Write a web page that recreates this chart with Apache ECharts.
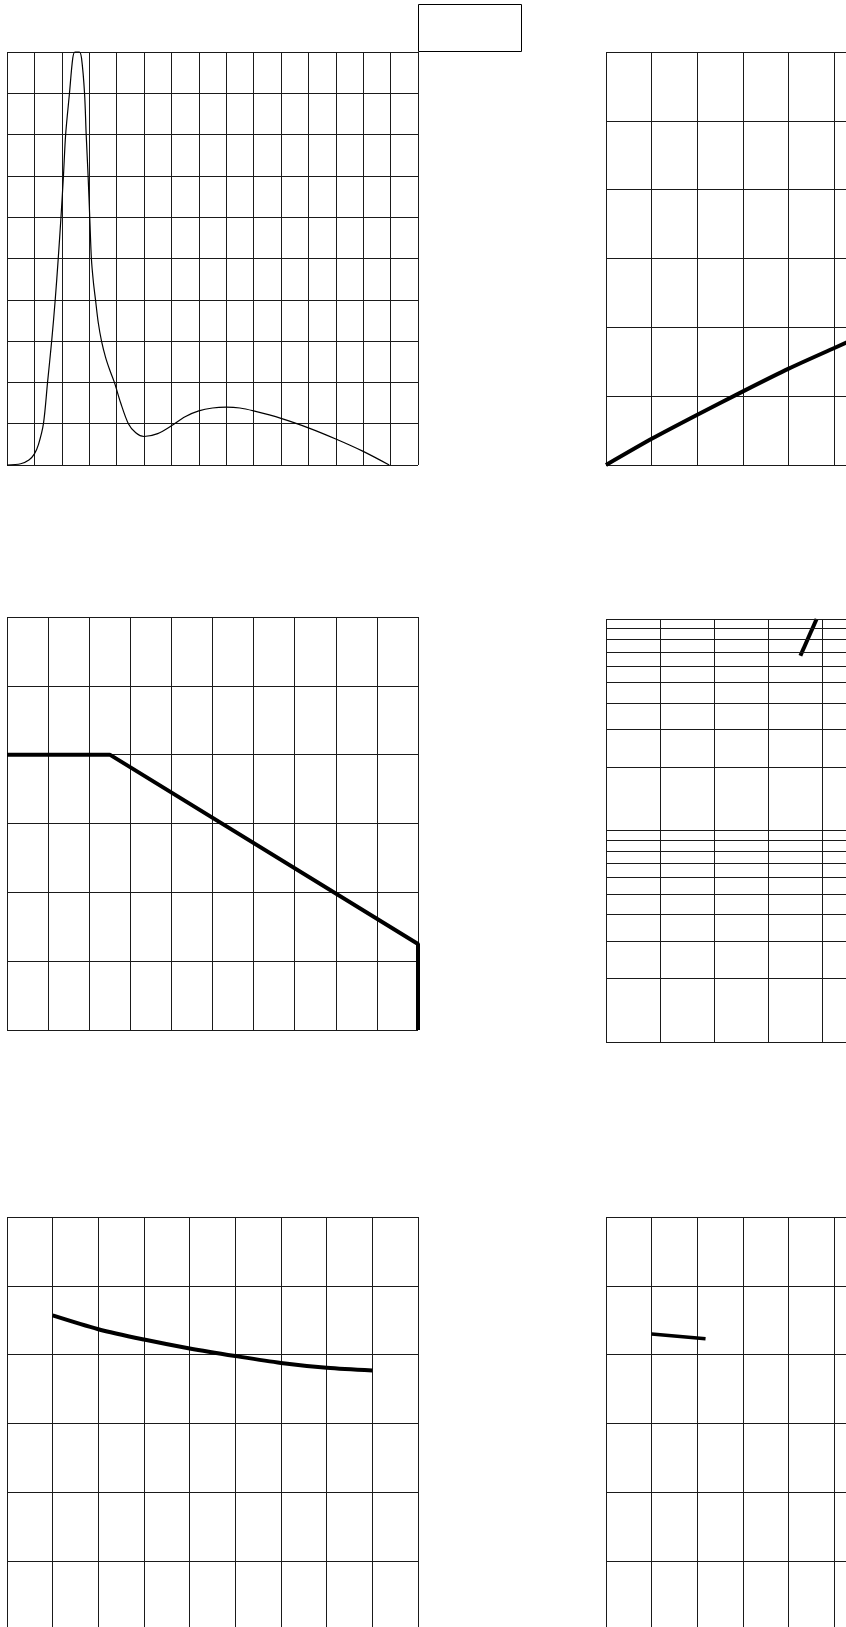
<!DOCTYPE html>
<html>
<head>
<meta charset="utf-8">
<script src="https://cdn.jsdelivr.net/npm/echarts@6/dist/echarts.min.js"></script>
<style>
  html,body{margin:0;padding:0;background:#fff;overflow:hidden}
  #main{width:1100px;height:1700px}
</style>
</head>
<body>
<div id="main"></div>
<script>
// panel 1 - thin peak curve
let p1X=[0,0.5,0.8,1.0,1.15,1.33,1.48,1.63,1.76,1.87,1.97,2.06,2.14,2.28,2.4,2.48,2.64,2.72,2.83,2.89,2.96,3.02,3.08,3.15,3.23,3.33,3.45,3.6,3.75,3.92,4.15,4.43,4.7,5.0,5.5,6.0,6.5,7.0,7.5,8.0,8.5,9.0,10,11,12,13,13.95]
let p1Y=[0,0.03,0.12,0.27,0.5,1,2,3,4,5,6,7,8,9,9.85,10,10,9.85,9,8,7,6,5,4.45,4,3.45,3,2.6,2.3,2,1.5,1,0.78,0.69,0.76,0.95,1.17,1.31,1.38,1.4,1.38,1.31,1.13,0.9,0.63,0.33,0]
// panel 2 - rising line
let p2X=[0,1,2,3,4,5,6]
let p2Y=[0,0.38,0.73,1.07,1.4,1.7,2.0]
// panel 3 - derating line
let p3X=[0,2.5,10,10]
let p3Y=[4,4,1.25,0]
// panel 4 - log axis
let p4X=[3.6,3.9]
let p4Y=[67,100]
let p4Lines=[1,2,3,4,5,6,7,8,9,10,20,30,40,50,60,70,80,90,100]
// panel 5
let p5X=[1,2,3,4,5,6,7,8]
let p5Y=[4.57,4.37,4.22,4.09,3.98,3.88,3.81,3.77]
// panel 6
let p6X=[1,2.18]
let p6Y=[4.3,4.23]

let gridColor='#1a1a1a'

let grids=[
  {left:7,top:52,width:411,height:413},
  {left:606,top:52,width:411,height:413},
  {left:7,top:617,width:411,height:413},
  {left:606,top:619,width:432,height:423},
  {left:7,top:1217,width:411,height:413},
  {left:606,top:1217,width:411,height:413}
]

function valAxis(idx,max,interval){
  return {
    type:'value',gridIndex:idx,min:0,max:max,interval:interval,
    axisLine:{show:false},axisTick:{show:false},axisLabel:{show:false},
    splitLine:{show:true,lineStyle:{color:gridColor,width:1}}
  }
}

let xAxes=[valAxis(0,15,1),valAxis(1,9,1),valAxis(2,10,1),valAxis(3,8,1),valAxis(4,9,1),valAxis(5,9,1)]
let yAxes=[valAxis(0,10,1),valAxis(1,6,1),valAxis(2,6,1),
  {type:'log',gridIndex:3,min:1,max:100,logBase:10,
    axisLine:{show:false},axisTick:{show:false},axisLabel:{show:false},splitLine:{show:false}},
  valAxis(4,6,1),valAxis(5,6,1)]

function pairs(xs,ys){
  return xs.map((x,i)=>[x,ys[i]])
}

function lineSeries(idx,xs,ys,w,extra){
  return Object.assign({
    type:'line',xAxisIndex:idx,yAxisIndex:idx,
    data:pairs(xs,ys),symbol:'none',
    lineStyle:{color:'#000',width:w},
    silent:true,clip:false
  },extra||{})
}

let myChart=echarts.init(document.getElementById('main'))
let options={
  animation:false,
  grid:grids,
  xAxis:xAxes,
  yAxis:yAxes,
  graphic:[{
    type:'rect',
    shape:{x:418.5,y:4.5,width:103,height:47},
    style:{fill:'none',stroke:'#000',lineWidth:1}
  }],
  series:[
    lineSeries(0,p1X,p1Y,1.2,{smooth:0.3}),
    lineSeries(1,p2X,p2Y,4,{smooth:0.2}),
    lineSeries(2,p3X,p3Y,4),
    lineSeries(3,p4X,p4Y,4,{clip:true,
      markLine:{
        silent:true,symbol:'none',animation:false,
        label:{show:false},
        lineStyle:{color:gridColor,width:1,type:'solid'},
        data:p4Lines.map(v=>({yAxis:v}))
      }}),
    lineSeries(4,p5X,p5Y,4,{smooth:0.3}),
    lineSeries(5,p6X,p6Y,3.5)
  ]
}
myChart.setOption(options)
</script>
</body>
</html>
